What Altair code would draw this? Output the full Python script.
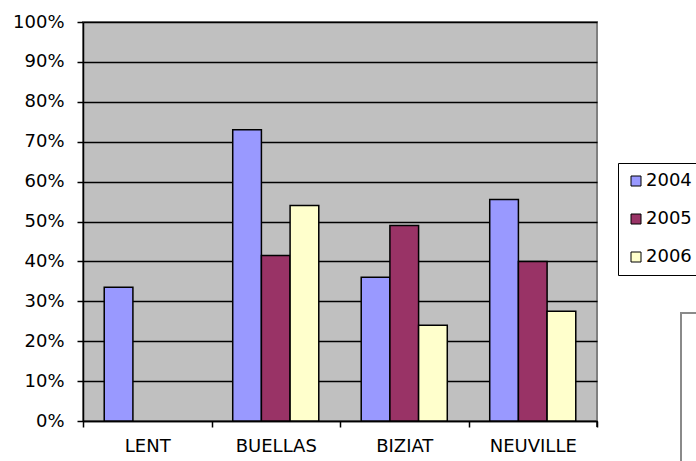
import altair as alt
import pandas as pd

categories = ["LENT", "BUELLAS", "BIZIAT", "NEUVILLE"]
years = ["2004", "2005", "2006"]
v2004 = [0.335, 0.73, 0.36, 0.555]
v2005 = [None, 0.415, 0.49, 0.40]
v2006 = [None, 0.54, 0.24, 0.275]
colors = ["#9999FF", "#993366", "#FFFFCC"]
y_ticks = [0, 0.1, 0.2, 0.3, 0.4, 0.5, 0.6, 0.7, 0.8, 0.9, 1.0]

rows = []
for yr, vals in zip(years, [v2004, v2005, v2006]):
    for c, v in zip(categories, vals):
        if v is not None:
            rows.append({"commune": c, "year": yr, "value": v})
df = pd.DataFrame(rows)

FONT = "DejaVu Sans"
W, H = 514, 399

bars = alt.Chart(df).mark_bar(stroke="black", strokeWidth=1.5).encode(
    x=alt.X(
        "commune:N",
        sort=categories,
        scale=alt.Scale(paddingInner=0, paddingOuter=0),
        axis=alt.Axis(
            title=None, tickBand="extent", labelAngle=0, labelAlign="center",
            tickSize=6, tickColor="black", tickWidth=1.5, domainColor="black", domainWidth=1.5,
            labelPadding=10, labelFont=FONT, labelFontSize=18, labelColor="black",
            labelOverlap=False, labelBound=False, labelFlush=False,
        ),
    ),
    xOffset=alt.XOffset("year:N", scale=alt.Scale(domain=years, paddingInner=0, paddingOuter=0.74)),
    y=alt.Y(
        "value:Q",
        scale=alt.Scale(domain=[0, 1], nice=False),
        axis=alt.Axis(
            title=None, format=".0%", values=y_ticks, grid=True, gridColor="black", gridWidth=1.6,
            tickSize=6, tickColor="black", tickWidth=1.5, domainColor="black", domainWidth=1.5,
            labelPadding=13, labelFont=FONT, labelFontSize=18, labelColor="black",
            labelOverlap=False, labelBound=False, labelFlush=False,
        ),
    ),
    color=alt.Color(
        "year:N",
        scale=alt.Scale(domain=years, range=colors),
        legend=alt.Legend(
            title=None, orient="none", legendX=535, legendY=141, padding=9,
            strokeColor="black", fillColor="white", symbolType="square", symbolSize=100,
            symbolStrokeColor="black", symbolStrokeWidth=1, symbolOpacity=1,
            labelFont=FONT, labelFontSize=18, labelColor="black", labelOffset=1, rowPadding=20,
        ),
    ),
)

deco = pd.DataFrame({"a": [0]})
end_tick = alt.Chart(deco).mark_rule(color="black", strokeWidth=1.5).encode(
    x=alt.value(W), y=alt.value(H), y2=alt.value(H + 6)
)
frame_h = alt.Chart(deco).mark_rule(color="#8a8a8a", strokeWidth=2).encode(
    x=alt.value(597), x2=alt.value(620), y=alt.value(291)
)
frame_v = alt.Chart(deco).mark_rule(color="#8a8a8a", strokeWidth=2).encode(
    x=alt.value(598), y=alt.value(290), y2=alt.value(445)
)

chart = alt.layer(bars, end_tick, frame_h, frame_v).properties(
    width=W, height=H,
    autosize=alt.AutoSizeParams(type="none"),
    padding={"left": 83, "top": 22, "right": 99, "bottom": 40},
    background="white",
).configure_view(
    fill="#C0C0C0", stroke="#808080", strokeWidth=2
)

chart.save("out.html", embed_options={"renderer": "svg", "actions": False})
